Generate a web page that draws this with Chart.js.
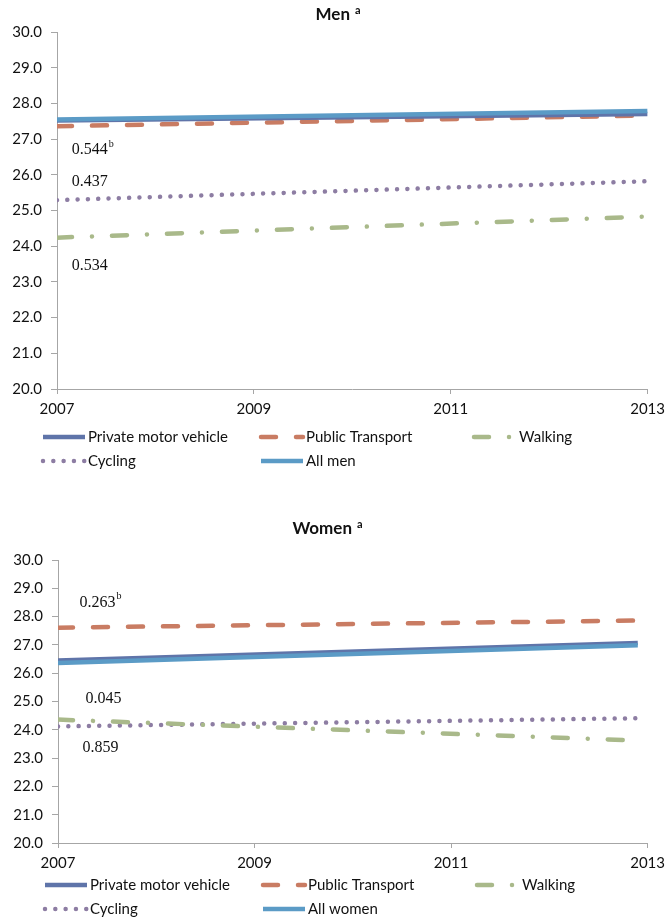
<!DOCTYPE html>
<html>
<head>
<meta charset="utf-8">
<script src="https://cdn.jsdelivr.net/npm/chart.js@4.4.0/dist/chart.umd.min.js"></script>
<style>
  body { margin: 0; background: #fff; }
  canvas { position: absolute; left: 0; }
  #menChart { top: 0; }
  #womenChart { top: 476px; }
</style>
</head>
<body>
<canvas id="menChart" width="671" height="476"></canvas>
<canvas id="womenChart" width="671" height="442"></canvas>
<script>
// years (x values) and tick labels
const menYears = [2007, 2013];
const womenYears = [2007, 2012.9];
const xTickYears = [2007, 2009, 2011, 2013];
const yTickValues = [20, 21, 22, 23, 24, 25, 26, 27, 28, 29, 30];
const seriesLabels = ['Private motor vehicle', 'Public Transport', 'Walking', 'Cycling'];

// men, fitted trend (start, end)
const menPrivate = [27.52, 27.70];
const menPublic = [27.36, 27.66];
const menWalking = [24.24, 24.83];
const menCycling = [25.29, 25.82];
const menAll = [27.55, 27.79];

// women
const womenPrivate = [26.45, 27.07];
const womenPublic = [27.61, 27.86];
const womenWalking = [24.36, 23.62];
const womenCycling = [24.12, 24.41];
const womenAll = [26.36, 26.99];

// p-value notes
const menNoteText = ['0.544', '0.437', '0.534'];
const menNoteSup = ['b', '', ''];
const womenNoteText = ['0.263', '0.045', '0.859'];
const womenNoteSup = ['b', '', ''];

const styles = [
  { color: '#5f74a9', width: 4.5, dash: [], cap: 'butt', order: 1 },
  { color: '#c97c63', width: 4.5, dash: [15, 20], cap: 'round', order: 2 },
  { color: '#a9b98a', width: 4.5, dash: [15, 20, 0.01, 20], cap: 'round', order: 3 },
  { color: '#8d7da3', width: 4.5, dash: [0.01, 10.3], cap: 'round', order: 4 },
  { color: '#5b9bc6', width: 4.5, dash: [], cap: 'butt', order: 0 }
];

function pts(years, vals) {
  return vals.map((v, i) => ({ x: years[i], y: v }));
}

function buildSets(years, series, labels) {
  return series.map((vals, i) => ({
    label: labels[i],
    data: pts(years, vals),
    borderColor: styles[i].color,
    borderWidth: styles[i].width,
    borderDash: styles[i].dash,
    borderCapStyle: styles[i].cap,
    pointRadius: 0,
    fill: false,
    tension: 0,
    order: styles[i].order
  }));
}

const extras = {
  id: 'extras',
  afterDraw(chart, args, o) {
    const ctx = chart.ctx;
    const xs = chart.scales.x, ys = chart.scales.y;
    ctx.save();
    ctx.fillStyle = '#111';
    ctx.textBaseline = 'alphabetic';
    // title with superscript
    ctx.font = 'bold 17px Lato';
    ctx.textAlign = 'right';
    ctx.fillText(o.title, o.titleX, o.titleY);
    ctx.font = 'bold 11px Lato';
    ctx.textAlign = 'left';
    ctx.fillText('a', o.titleX + 5, o.titleY - 6);
    // notes
    o.notes.forEach((n, i) => {
      const px = xs.getPixelForValue(o.noteX[i]);
      const py = ys.getPixelForValue(o.noteY[i]);
      ctx.font = '16px "Liberation Serif"';
      ctx.textBaseline = 'middle';
      ctx.fillText(n, px, py);
      if (o.sups[i]) {
        const w = ctx.measureText(n).width;
        ctx.font = '10px "Liberation Serif"';
        ctx.fillText(o.sups[i], px + w + 1, py - 6);
      }
    });
    // legend
    chart.data.datasets.forEach((ds, i) => {
      const col = i % 3, row = Math.floor(i / 3);
      const x0 = o.legendX[col], y0 = o.legendY[row];
      ctx.save();
      ctx.strokeStyle = ds.borderColor;
      ctx.lineWidth = ds.borderWidth;
      ctx.lineCap = ds.borderCapStyle;
      ctx.setLineDash(ds.borderDash);
      ctx.beginPath();
      ctx.moveTo(x0 + 2, y0);
      ctx.lineTo(x0 + 44, y0);
      ctx.stroke();
      ctx.restore();
      ctx.font = '15px Lato';
      ctx.fillStyle = '#111';
      ctx.textAlign = 'left';
      ctx.textBaseline = 'middle';
      ctx.fillText(ds.label, x0 + 47, y0);
    });
    ctx.restore();
  }
};

function makeChart(id, years, series, labels, ext, lay) {
  return new Chart(document.getElementById(id), {
    type: 'line',
    data: { datasets: buildSets(years, series, labels) },
    plugins: [extras],
    options: {
      responsive: false,
      animation: false,
      layout: { padding: { top: lay.top, right: lay.right, left: 0, bottom: 0 } },
      plugins: {
        legend: { display: false },
        tooltip: { enabled: false },
        extras: ext
      },
      scales: {
        x: {
          type: 'linear',
          min: 2007,
          max: 2013,
          afterBuildTicks: s => { s.ticks = xTickYears.map(v => ({ value: v })); },
          afterFit: s => { s.height = lay.xHeight; },
          ticks: {
            callback: v => String(v),
            font: { family: 'Lato', size: 15 },
            color: '#111',
            padding: 6,
            maxRotation: 0
          },
          grid: { drawOnChartArea: false, drawTicks: true, tickLength: 5, color: '#a6a6a6' },
          border: { color: '#a6a6a6', width: 1 }
        },
        y: {
          min: 20,
          max: 30,
          afterBuildTicks: s => { s.ticks = yTickValues.map(v => ({ value: v })); },
          afterFit: s => { s.width = lay.yWidth; },
          ticks: {
            callback: v => v.toFixed(1),
            font: { family: 'Lato', size: 15 },
            color: '#111',
            padding: 9
          },
          grid: { drawOnChartArea: false, drawTicks: true, tickLength: 6, color: '#a6a6a6' },
          border: { color: '#a6a6a6', width: 1 }
        }
      }
    }
  });
}

makeChart('menChart', menYears,
  [menPrivate, menPublic, menWalking, menCycling, menAll],
  seriesLabels.concat(['All men']),
  {
    title: 'Men', titleX: 350, titleY: 20,
    notes: menNoteText, sups: menNoteSup,
    noteX: [2007.15, 2007.15, 2007.15], noteY: [26.69, 25.8, 23.44],
    legendX: [41, 259, 472], legendY: [437, 461]
  },
  { top: 32, right: 18, xHeight: 87, yWidth: 57 });

makeChart('womenChart', womenYears,
  [womenPrivate, womenPublic, womenWalking, womenCycling, womenAll],
  seriesLabels.concat(['All women']),
  {
    title: 'Women', titleX: 352, titleY: 58,
    notes: womenNoteText, sups: womenNoteSup,
    noteX: [2007.22, 2007.28, 2007.25], noteY: [28.49, 25.1, 23.38],
    legendX: [43, 261, 475], legendY: [409, 433]
  },
  { top: 84, right: 21, xHeight: 75, yWidth: 58 });
</script>
</body>
</html>
